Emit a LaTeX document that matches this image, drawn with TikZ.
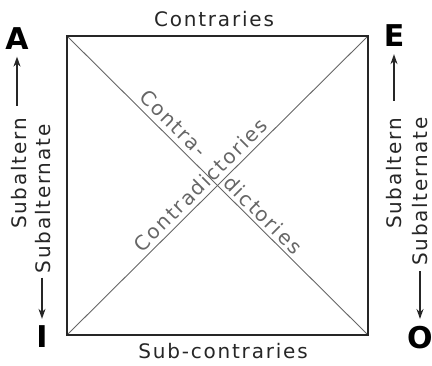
\documentclass[tikz,border=0pt]{standalone}
\usepackage{fontspec}
\newfontfamily\labfont{DejaVu Sans}[LetterSpace=9]
\newfontfamily\letfont{DejaVu Sans}
\usetikzlibrary{calc,arrows.meta}
\begin{document}
\begin{tikzpicture}[x=1pt,y=-1pt,
  frame/.style={line width=1.8pt, black!85},
  diag/.style={line width=0.9pt, black!60},
  lab/.style={font=\labfont\fontsize{20}{24}\selectfont, text=black!85, inner sep=0pt},
  dlab/.style={lab, text=black!60},
  vlet/.style={font=\letfont\bfseries\fontsize{30}{32}\selectfont, text=black, inner sep=7pt},
  arr/.style={line width=1.5pt, black!85, -{Stealth[length=10pt,width=7pt]}}
]
\useasboundingbox (0,0) rectangle (432,366);
\coordinate (tl) at (67,36);
\coordinate (tr) at (368,36);
\coordinate (br) at (368,335);
\coordinate (bl) at (67,335);
\draw[diag] (tl) -- (br);
\draw[diag] (bl) -- (tr);
\draw[frame] (tl) -- (tr) -- (br) -- (bl) -- cycle;
\node[lab, anchor=base] (contraries) at (214,27) {Contraries};
\node[lab, anchor=base] (subcontraries) at (223,359) {Sub-contraries};
\node[dlab, anchor=base, rotate=45] (cd) at ($(bl)!0.473!(tr)!5pt!90:(tr)$) {Contradictories};
\node[dlab, anchor=base, rotate=-45] (contra) at ($(tl)!0.324!(br)!6pt!90:(br)$) {Contra-};
\node[dlab, anchor=base, rotate=-45] (dict) at ($(tl)!0.625!(br)!4pt!90:(br)$) {dictories};
\node[lab, anchor=base, rotate=90] (subL) at (27,173.5) {Subaltern};
\node[lab, anchor=base, rotate=90] (subL2) at (50,199) {Subalternate};
\node[lab, anchor=base, rotate=90] (subR) at (401,173.5) {Subaltern};
\node[lab, anchor=base, rotate=90] (subR2) at (427.5,191.5) {Subalternate};
\node[vlet] (A) at (17,38.5) {A};
\node[vlet] (E) at (394,36) {E};
\node[vlet] (I) at (42,337) {I};
\node[vlet] (O) at (420,337.5) {O};
\draw[arr, shorten <=12pt] (A |- subL.east) -- (A);
\draw[arr, shorten <=4pt] (I |- subL2.west) -- (I);
\draw[arr, shorten <=17pt] (E |- subR.east) -- (E);
\draw[arr, shorten <=5pt] (O |- subR2.west) -- (O);
\end{tikzpicture}
\end{document}
